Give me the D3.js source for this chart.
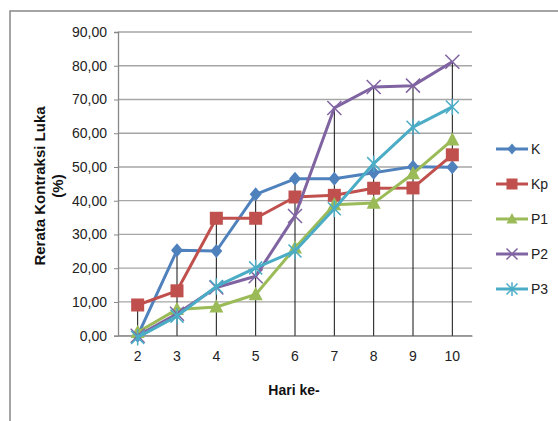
<!DOCTYPE html>
<html><head><meta charset="utf-8">
<script src="https://cdn.jsdelivr.net/npm/d3@7"></script>
<style>body{margin:0;background:#fff;} svg{display:block;}</style>
</head><body><svg id="c" width="558" height="421"></svg>
<script>
const categories = ["2","3","4","5","6","7","8","9","10"];
const seriesNames = ["K","Kp","P1","P2","P3"];
const K  = [0.0, 25.3, 25.1, 41.9, 46.5, 46.5, 48.3, 50.1, 49.9];
const Kp = [9.1, 13.3, 34.8, 34.8, 41.1, 41.6, 43.7, 43.8, 53.6];
const P1 = [1.0, 7.8, 8.5, 12.2, 26.0, 38.8, 39.3, 48.0, 58.0];
const P2 = [0.0, 6.5, 14.3, 17.6, 35.5, 67.5, 73.7, 74.1, 81.2];
const P3 = [-0.5, 5.8, 14.6, 20.1, 25.1, 37.6, 51.0, 61.8, 67.8];
const yTicks = [0,10,20,30,40,50,60,70,80,90];
const colors = ["#4F81BD","#C0504D","#9BBB59","#8064A2","#4BACC6"];
const markers = ["diamond","square","triangle","x","star"];
const data = [K,Kp,P1,P2,P3];

const svg = d3.select("#c");
const font = "'Liberation Sans', Arial, sans-serif";
// outer border
svg.append("rect").attr("x",10).attr("y",11).attr("width",600).attr("height",500)
  .attr("fill","none").attr("stroke","#888").attr("stroke-width",1.5);

const x = d3.scaleBand().domain(categories).range([118,472]);
const y = d3.scaleLinear().domain([0,90]).range([335.7,32]);
const cx = c => x(c) + x.bandwidth()/2;

// gridlines
svg.append("g").selectAll("line").data(yTicks).join("line")
  .attr("x1",118).attr("x2",472).attr("y1",d=>y(d)).attr("y2",d=>y(d))
  .attr("stroke","#a6a6a6").attr("stroke-width",1.3);

// y axis
const yAxis = d3.axisLeft(y).tickValues(yTicks).tickSize(4).tickPadding(7)
  .tickFormat(d => d3.format(".2f")(d).replace(".",","));
const ga = svg.append("g").attr("transform","translate(118,0)").call(yAxis);
ga.select(".domain").attr("stroke","#888").attr("stroke-width",1.3);
ga.selectAll(".tick line").attr("stroke","#888");
ga.selectAll("text").attr("font-family",font).attr("font-size",14).attr("fill","#222");

// x axis
const xAxis = d3.axisBottom(x).tickSize(0).tickPadding(15);
const gx = svg.append("g").attr("transform","translate(0,335.7)").call(xAxis);
gx.select(".domain").attr("stroke","#888").attr("stroke-width",1.3);
gx.selectAll("text").attr("font-family",font).attr("font-size",14).attr("fill","#222");

// drop lines
svg.append("g").selectAll("line").data(categories).join("line")
  .attr("x1",d=>cx(d)).attr("x2",d=>cx(d))
  .attr("y1",(d,i)=>y(d3.max(data, s=>s[i]))).attr("y2",y(0))
  .attr("stroke","#111").attr("stroke-width",1);

function drawMarker(g, type, color, px, py, s) {
  if (type==="diamond") {
    g.append("path").attr("d",`M${px},${py-s}L${px+s*0.85},${py}L${px},${py+s}L${px-s*0.85},${py}Z`).attr("fill",color);
  } else if (type==="square") {
    g.append("rect").attr("x",px-s).attr("y",py-s).attr("width",2*s).attr("height",2*s).attr("fill",color);
  } else if (type==="triangle") {
    g.append("path").attr("d",`M${px},${py-s*1.1}L${px+s},${py+s*0.8}L${px-s},${py+s*0.8}Z`).attr("fill",color);
  } else if (type==="x") {
    g.append("path").attr("d",`M${px-s},${py-s}L${px+s},${py+s}M${px-s},${py+s}L${px+s},${py-s}`)
      .attr("stroke",color).attr("stroke-width",1.5);
  } else if (type==="star") {
    g.append("path").attr("d",`M${px-s},${py-s}L${px+s},${py+s}M${px-s},${py+s}L${px+s},${py-s}M${px},${py-s*1.25}L${px},${py+s*1.25}`)
      .attr("stroke",color).attr("stroke-width",1.5);
  }
}

const line = d3.line().x((d,i)=>cx(categories[i])).y(d=>y(d));
data.forEach((s,k)=>{
  const g = svg.append("g");
  g.append("path").datum(s).attr("d",line).attr("fill","none")
    .attr("stroke",colors[k]).attr("stroke-width",3).attr("stroke-linejoin","round");
  const sz = {diamond:7,square:6.5,triangle:7,x:7,star:6.5}[markers[k]];
  s.forEach((v,i)=>drawMarker(g, markers[k], colors[k], cx(categories[i]), y(v), sz));
});

// legend
const leg = svg.append("g");
seriesNames.forEach((n,k)=>{
  const ly = 149 + k*35;
  leg.append("line").attr("x1",496).attr("x2",528).attr("y1",ly).attr("y2",ly)
    .attr("stroke",colors[k]).attr("stroke-width",3);
  drawMarker(leg, markers[k], colors[k], 512, ly, 5.5);
  leg.append("text").attr("x",531).attr("y",ly+5).text(n)
    .attr("font-family",font).attr("font-size",14).attr("fill","#222");
});

// axis titles
svg.append("text").attr("x",294).attr("y",395).attr("text-anchor","middle")
  .attr("font-family",font).attr("font-size",14).attr("font-weight","bold").attr("fill","#111").text("Hari ke-");
const yt = svg.append("text").attr("transform","translate(45,186) rotate(-90)")
  .attr("text-anchor","middle").attr("font-family",font).attr("font-size",15)
  .attr("font-weight","bold").attr("fill","#111");
yt.append("tspan").attr("x",0).attr("y",0).text("Rerata Kontraksi Luka");
yt.append("tspan").attr("x",0).attr("y",18).text("(%)");
</script></body></html>
